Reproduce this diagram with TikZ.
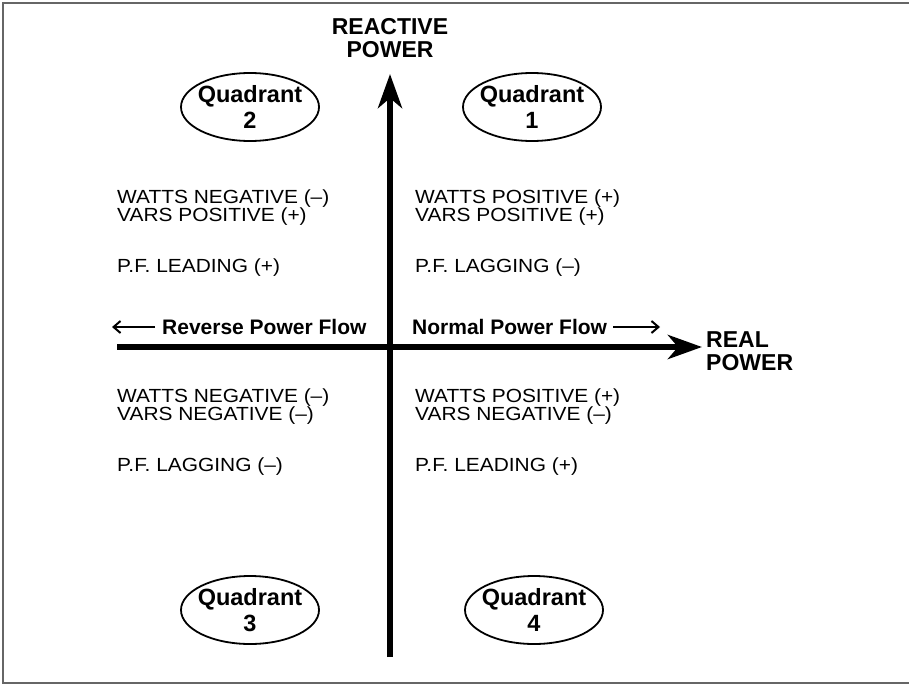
\documentclass[tikz,border=0pt]{standalone}
\usepackage{fontspec}
\setmainfont{Liberation Sans}
\newfontfamily\signfont[FakeStretch=1.1,Ligatures=TeX]{Liberation Sans}
\usetikzlibrary{arrows.meta,shapes.geometric,positioning}
\newcommand{\tightlines}{\lineskiplimit=-100pt\relax}

\begin{document}
\begin{tikzpicture}[x=1pt,y=-1pt,font=\signfont\fontsize{19}{18}\selectfont\tightlines,
            axis/.style={line width=6pt,-{Stealth[length=34pt,width=24pt,inset=10pt]}},
            flow/.style={line width=2pt,-{Straight Barb[length=7pt,width=12pt]}},
            quad/.style={ellipse,draw,line width=1.8pt,minimum width=138pt,minimum height=68pt,
                inner sep=0pt,inner xsep=-4pt,align=center,
                font=\rmfamily\fontsize{23.5}{26}\selectfont\bfseries\tightlines},
            info/.style={anchor=base west,inner sep=0pt,align=left},
            title/.style={inner sep=0pt,font=\rmfamily\fontsize{23}{23}\selectfont\bfseries}]
            \useasboundingbox (0,0) rectangle (909,685);

            % frame
            \draw[black!60,line width=2pt] (920,3) -- (2.5,3) -- (2.5,683) -- (920,683);

            % axes
            \coordinate (origin) at (390,347);
            \coordinate (ytop)   at (390,74);
            \coordinate (ybot)   at (390,657);
            \coordinate (xleft)  at (117,347);
            \coordinate (xright) at (702,347);
            \draw[axis] (ybot) -- (ytop);
            \draw[axis] (xleft) -- (xright);

            \node[title,align=center] (yname) at (390,38) {REACTIVE\\POWER};
            \node[title,align=left,anchor=west] (xname) at (706,351) {REAL\\POWER};

            % power flow
            \node[title,font=\rmfamily\fontsize{21}{21}\selectfont\bfseries,anchor=west] (revflow) at (162,327) {Reverse Power Flow};
            \node[title,font=\rmfamily\fontsize{21}{21}\selectfont\bfseries,anchor=west] (normflow) at (412,327) {Normal Power Flow};
            \coordinate (revend)  at (112,327);
            \coordinate (normend) at (660,327);
            \draw[flow] ([xshift=-7pt]revflow.west) -- (revend);
            \draw[flow] ([xshift=6pt]normflow.east) -- (normend);

            % quadrants
            \node[quad] (quad_1) at (532,107) {Quadrant\\1};
            \node[quad] (quad_2) at (250,107) {Quadrant\\2};
            \node[quad] (quad_3) at (250,610) {Quadrant\\3};
            \node[quad] (quad_4) at (534,610) {Quadrant\\4};

            % signs, placed by the baseline of the last line
            \node[info] (info_1) at (415,272) {WATTS POSITIVE (+)\\VARS POSITIVE (+)\\[33pt]P.F. LAGGING (--)};
            \node[info] (info_2) at (117,272) {WATTS NEGATIVE (--)\\VARS POSITIVE (+)\\[33pt]P.F. LEADING (+)};
            \node[info] (info_3) at (117,471) {WATTS NEGATIVE (--)\\VARS NEGATIVE (--)\\[33pt]P.F. LAGGING (--)};
            \node[info] (info_4) at (415,471) {WATTS POSITIVE (+)\\VARS NEGATIVE (--)\\[33pt]P.F. LEADING (+)};
      \end{tikzpicture}
\end{document}
